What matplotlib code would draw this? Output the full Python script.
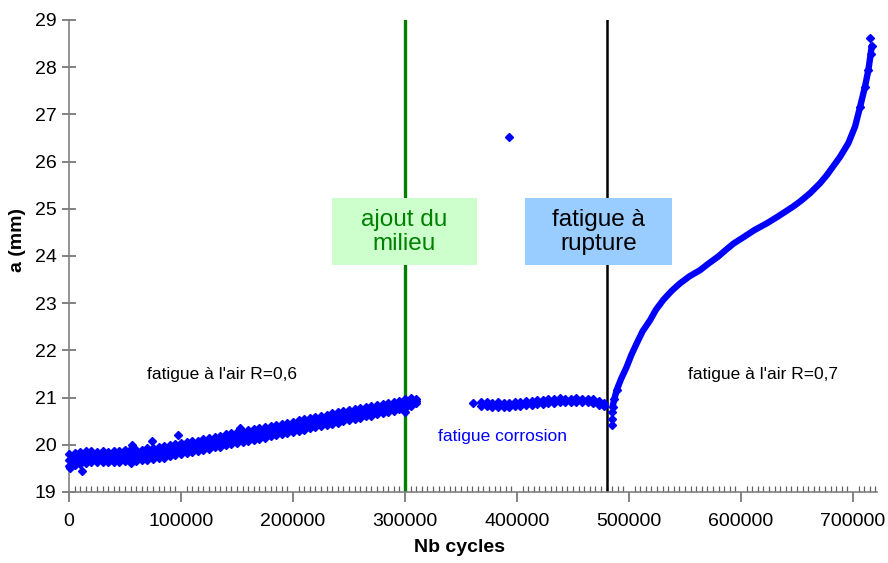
import matplotlib
matplotlib.use("Agg")
import matplotlib.pyplot as plt
from matplotlib.patches import Rectangle
from matplotlib.ticker import MultipleLocator

plt.rcParams['font.family'] = ['Liberation Sans', 'DejaVu Sans']

# ---------------- data ----------------
# Phase 1 : fatigue à l'air R=0,6  (cycles, crack length band)
air1_x = [0, 5000, 10000, 15000, 20000, 25000, 30000, 35000, 40000, 45000,
          50000, 55000, 60000, 65000, 70000, 75000, 80000, 85000, 90000, 95000,
          100000, 105000, 110000, 115000, 120000, 125000, 130000, 135000, 140000, 145000,
          150000, 155000, 160000, 165000, 170000, 175000, 180000, 185000, 190000, 195000,
          200000, 205000, 210000, 215000, 220000, 225000, 230000, 235000, 240000, 245000,
          250000, 255000, 260000, 265000, 270000, 275000, 280000, 285000, 290000, 295000,
          300000, 305000, 310000]
air1_mid = [19.68, 19.70, 19.72, 19.73, 19.74, 19.75, 19.75, 19.74, 19.75, 19.76,
            19.76, 19.78, 19.77, 19.79, 19.80, 19.82, 19.84, 19.85, 19.88, 19.90,
            19.92, 19.94, 19.96, 19.98, 20.01, 20.03, 20.06, 20.08, 20.10, 20.13,
            20.15, 20.17, 20.20, 20.22, 20.25, 20.26, 20.29, 20.31, 20.34, 20.36,
            20.38, 20.41, 20.43, 20.46, 20.48, 20.51, 20.53, 20.56, 20.58, 20.61,
            20.63, 20.65, 20.67, 20.70, 20.72, 20.74, 20.77, 20.79, 20.81, 20.84,
            20.87, 20.90, 20.93]
air1_hi = [19.80, 19.83, 19.84, 19.86, 19.87, 19.85, 19.86, 19.85, 19.87, 19.86,
           19.88, 19.92, 19.88, 19.90, 19.93, 19.94, 19.95, 19.97, 19.99, 20.02,
           20.03, 20.05, 20.08, 20.09, 20.12, 20.14, 20.17, 20.19, 20.22, 20.24,
           20.27, 20.28, 20.31, 20.33, 20.36, 20.37, 20.40, 20.42, 20.45, 20.47,
           20.49, 20.52, 20.54, 20.57, 20.59, 20.62, 20.64, 20.67, 20.70, 20.72,
           20.73, 20.76, 20.77, 20.80, 20.82, 20.84, 20.86, 20.88, 20.90, 20.93,
           20.96, 20.99, 20.98]
air1_lo = [19.56, 19.58, 19.60, 19.61, 19.63, 19.63, 19.64, 19.63, 19.64, 19.64,
           19.65, 19.62, 19.66, 19.67, 19.68, 19.70, 19.72, 19.73, 19.76, 19.78,
           19.81, 19.83, 19.85, 19.87, 19.90, 19.92, 19.95, 19.96, 19.99, 20.01,
           20.03, 20.06, 20.08, 20.11, 20.13, 20.15, 20.18, 20.20, 20.22, 20.25,
           20.27, 20.30, 20.32, 20.35, 20.37, 20.40, 20.42, 20.45, 20.47, 20.50,
           20.52, 20.55, 20.57, 20.60, 20.62, 20.65, 20.67, 20.70, 20.72, 20.75,
           20.78, 20.82, 20.88]
air1_out_x = [1000, 11300, 56000, 73800, 97000, 152700, 300000]
air1_out_y = [19.50, 19.44, 20.00, 20.09, 20.21, 20.35, 20.70]

# Phase 2 : fatigue corrosion
corr_x = [368000, 373000, 378000, 383000, 388000, 393000, 398000, 403000,
          408000, 413000, 418000, 423000, 428000, 433000, 438000, 443000, 448000,
          453000, 458000, 463000, 468000, 473000, 478000]
corr_hi = [20.90, 20.91, 20.89, 20.90, 20.88, 20.89, 20.91, 20.91,
           20.93, 20.93, 20.95, 20.95, 20.97, 20.97, 20.99, 20.98, 20.98,
           20.99, 20.98, 20.98, 20.96, 20.93, 20.89]
corr_lo = [20.82, 20.82, 20.81, 20.80, 20.80, 20.81, 20.82, 20.83,
           20.84, 20.85, 20.86, 20.87, 20.88, 20.89, 20.90, 20.90, 20.91,
           20.91, 20.91, 20.90, 20.88, 20.85, 20.83]
corr_first_x = [361000]
corr_first_y = [20.88]
outlier_x = [393100]
outlier_y = [26.53]

# Phase 3 : fatigue à l'air R=0,7 (to rupture)
air2_x = [484500, 484800, 485100, 485300, 487000, 489000, 493000, 497900, 502000,
          506900, 512000, 518800, 524000, 530600, 538000, 545500, 554000, 563400,
          571000, 579700, 586000, 593100, 603000, 612000, 622900, 631800, 639000,
          646700, 653000, 661600, 670500, 676500, 682000, 688400, 695800, 701800,
          706300, 710700, 713700, 715800, 716700, 715200]
air2_y = [20.42, 20.55, 20.70, 20.81, 20.98, 21.16, 21.40, 21.65, 21.90,
          22.15, 22.40, 22.64, 22.86, 23.07, 23.26, 23.42, 23.57, 23.70,
          23.84, 23.99, 24.12, 24.26, 24.41, 24.55, 24.69, 24.82, 24.93,
          25.05, 25.16, 25.33, 25.54, 25.71, 25.89, 26.10, 26.39, 26.74,
          27.16, 27.59, 27.94, 28.29, 28.45, 28.61]

x_ticks = [0, 100000, 200000, 300000, 400000, 500000, 600000, 700000]
y_ticks = [19, 20, 21, 22, 23, 24, 25, 26, 27, 28, 29]
line_medium = 300000
line_rupture = 480000

# ---------------- figure ----------------
fig = plt.figure(figsize=(8.88, 5.63), dpi=100)
ax = fig.add_axes([69/888, 1-492/563, 808/888, 472/563])

blue = '#0000FF'
mk = dict(marker='D', ls='none', ms=4.2, color=blue, mec=blue, clip_on=False, zorder=3)

ax.fill_between(air1_x, air1_lo, air1_hi, color=blue, lw=0, zorder=3)
for yy in (air1_hi, air1_lo, air1_mid):
    ax.plot(air1_x, yy, **mk)
ax.plot(air1_out_x, air1_out_y, **mk)

ax.fill_between(corr_x, corr_lo, corr_hi, color=blue, lw=0, zorder=3)
mk_c = dict(mk, ms=3.8)
for yy in (corr_hi, corr_lo):
    ax.plot(corr_x, yy, **mk_c)
ax.plot(corr_first_x, corr_first_y, **mk_c)
ax.plot(outlier_x, outlier_y, **mk)

ax.plot(air2_x[3:-1], air2_y[3:-1], '-', color=blue, lw=4.6, solid_capstyle='round',
        solid_joinstyle='round', zorder=3)
ax.plot(air2_x[:6], air2_y[:6], **mk)
ax.plot(air2_x[-6:], air2_y[-6:], **mk)

ax.axvline(line_medium, color='#008000', lw=2.4, zorder=2)
ax.axvline(line_rupture, color='black', lw=1.8, zorder=2)

ax.set_xlim(0, 721400)
ax.set_ylim(19, 29)
ax.set_xticks(x_ticks)
ax.set_xticklabels([str(v) for v in x_ticks])
ax.set_yticks(y_ticks)
ax.xaxis.set_minor_locator(MultipleLocator(5000))

for s in ('top', 'right'):
    ax.spines[s].set_visible(False)
for s in ('left', 'bottom'):
    ax.spines[s].set_color('#808080')
    ax.spines[s].set_linewidth(1.2)

ax.tick_params(axis='y', which='major', direction='inout', length=10, width=1.1,
               color='#606060', labelsize=14, pad=4)
ax.tick_params(axis='x', which='major', direction='out', length=7, width=1.1,
               color='#606060', labelsize=14, pad=8)
ax.tick_params(axis='x', which='minor', direction='in', length=4, width=0.9,
               color='#606060')

# boxes
ax.add_patch(Rectangle((0.3255, 0.481), 0.1795, 0.142, transform=ax.transAxes,
                       facecolor='#CCFFCC', edgecolor='none', zorder=4))
ax.add_patch(Rectangle((0.5644, 0.481), 0.1819, 0.142, transform=ax.transAxes,
                       facecolor='#99CCFF', edgecolor='none', zorder=4))
ax.text(0.4152, 0.551, "ajout du\nmilieu", transform=ax.transAxes, ha='center',
        va='center', fontsize=17.5, color='#008000', linespacing=1.15, zorder=5)
ax.text(0.6553, 0.551, "fatigue à\nrupture", transform=ax.transAxes, ha='center',
        va='center', fontsize=17.5, color='black', linespacing=1.15, zorder=5)

ax.text(0.189, 0.2479, "fatigue à l'air R=0,6", transform=ax.transAxes,
        ha='center', va='center', fontsize=12.5, color='black')
ax.text(0.8583, 0.2479, "fatigue à l'air R=0,7", transform=ax.transAxes,
        ha='center', va='center', fontsize=12.5, color='black')
ax.text(0.5365, 0.1172, "fatigue corrosion", transform=ax.transAxes,
        ha='center', va='center', fontsize=12.5, color=blue)

fig.text(459/888, 1-548/563, "Nb cycles", ha='center', va='center',
         fontsize=14, fontweight='bold')
fig.text(17/888, 1-240/563, "a (mm)", ha='center', va='center', rotation=90,
         fontsize=14, fontweight='bold')

fig.savefig('out.png', dpi=100)
